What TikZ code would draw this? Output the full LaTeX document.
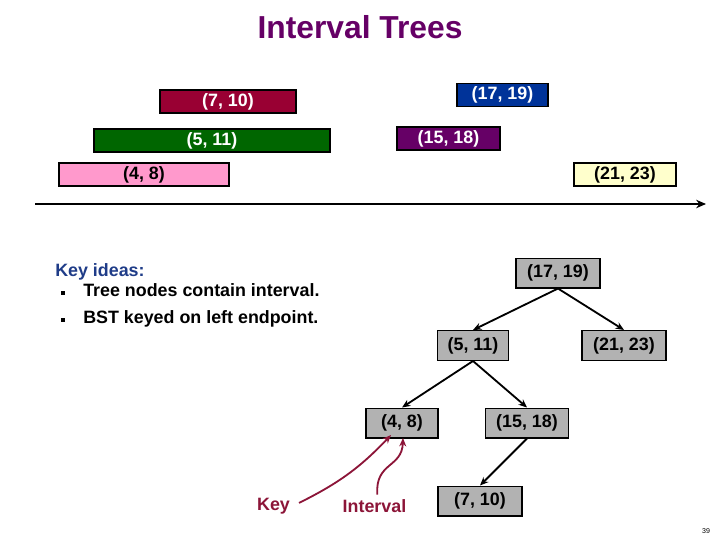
\documentclass[tikz,border=0pt]{standalone}
\usepackage{fontspec}
\setmainfont{Liberation Sans}
\usetikzlibrary{arrows.meta}
\definecolor{titlepurple}{HTML}{660066}
\definecolor{barred}{HTML}{990033}
\definecolor{barblue}{HTML}{003399}
\definecolor{bargreen}{HTML}{006600}
\definecolor{barpurple}{HTML}{660066}
\definecolor{barpink}{HTML}{FF99CC}
\definecolor{baryellow}{HTML}{FFFFCC}
\definecolor{nodegray}{HTML}{B2B2B2}
\definecolor{ideablue}{HTML}{1F3C88}
\definecolor{keyred}{HTML}{8C1538}

\begin{document}
\begin{tikzpicture}[x=0.025cm,y=-0.025cm,>={Stealth[length=6pt,width=5pt]},
  font=\bfseries\fontsize{12.7}{15}\selectfont]
 \tikzstyle{bar} = [draw=black,line width=1pt,inner sep=0pt,minimum height=0.575cm]
 \tikzstyle{treenode} = [draw=black,line width=1pt,fill=nodegray,inner sep=0pt,minimum height=0.74cm]
 \tikzstyle{edge} = [->,line width=1.3pt]
 \tikzstyle{pointer} = [->,line width=1.3pt,keyred]
 \tikzstyle{dot} = [fill=black,inner sep=0pt,minimum size=0.09cm]
 \tikzstyle{item} = [anchor=base west,inner sep=0pt]
 \useasboundingbox (0,0) rectangle (720,540);

% Title
 \node[titlepurple,font=\bfseries\fontsize{22.6}{26}\selectfont] (ttl) at (360,27) {Interval Trees};

% Intervals on the line
 \node[bar,fill=barred,text=white,minimum width=3.4cm] (b1) at (228,101.5) {(7, 10)};
 \node[bar,fill=barblue,text=white,minimum width=2.275cm] (b2) at (502.5,95) {(17, 19)};
 \node[bar,fill=bargreen,text=white,minimum width=5.9cm] (b3) at (212,140.5) {(5, 11)};
 \node[bar,fill=barpurple,text=white,minimum width=2.575cm] (b4) at (448.5,138.5) {(15, 18)};
 \node[bar,fill=barpink,minimum width=4.25cm] (b5) at (144,174.5) {(4, 8)};
 \node[bar,fill=baryellow,minimum width=2.55cm] (b6) at (625,174.5) {(21, 23)};
 \coordinate (axl) at (35,204);
 \coordinate (axr) at (706,204);
 \draw[->,line width=1.9pt,>={Stealth[length=7pt,width=6pt]}] (axl) -- (axr);

% Key ideas
 \node[item,ideablue] (kid) at (55,276) {Key ideas:};
 \node[dot] (d1) at (63,293) {}; \node[item] (i1) at (83,296) {Tree nodes contain interval.};
 \node[dot] (d2) at (63,320) {}; \node[item] (i2) at (83,323) {BST keyed on left endpoint.};

% Tree
 \node[treenode,minimum width=2.1cm] (t1) at (558,273) {(17, 19)};
 \node[treenode,minimum width=1.775cm] (t2) at (473,345.5) {(5, 11)};
 \node[treenode,minimum width=2.1cm] (t3) at (624,345.5) {(21, 23)};
 \node[treenode,minimum width=1.8cm] (t4) at (402,423) {(4, 8)};
 \node[treenode,minimum width=2.075cm] (t5) at (527,423) {(15, 18)};
 \node[treenode,minimum width=2.1cm] (t6) at (480,501) {(7, 10)};
 \draw[edge] (t1.south) -- (t2.north);
 \draw[edge] (t1.south) -- (t3.north);
 \draw[edge] (t2.south) -- (t4.north);
 \draw[edge] (t2.south) -- (t5.north);
 \draw[edge] (t5.south) -- (t6.north);

% Key / Interval pointers
 \node[anchor=base,keyred] (key) at (273.5,510) {Key};
 \node[anchor=base,keyred] (ival) at (374.5,512.5) {Interval};
 \coordinate (kend) at (391,435);
 \coordinate (iend) at (403,438);
 \draw[pointer] ([xshift=3pt,yshift=2pt]key.east) to[bend right=10] (kend);
 \draw[pointer] ([xshift=2pt]ival.north) .. controls (375,462) and (402,468) .. (iend);

 \node[font=\fontsize{5}{6}\selectfont] (pg) at (706,531) {39};
\end{tikzpicture}
\end{document}
